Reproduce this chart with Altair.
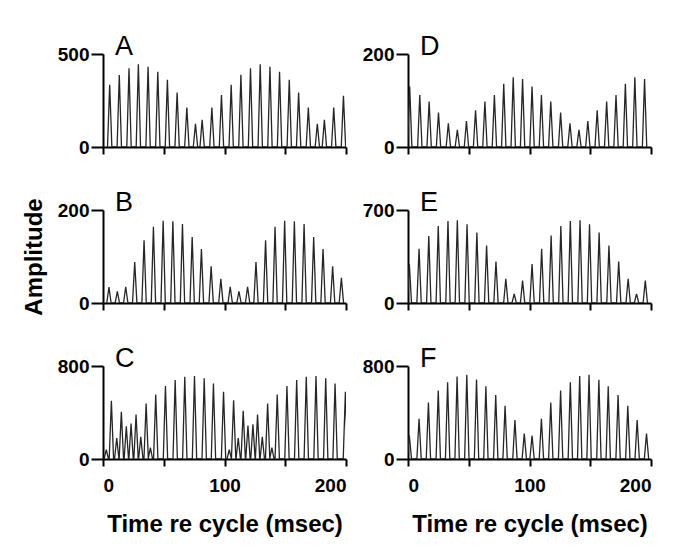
import altair as alt
import pandas as pd

# ---- data (peak times in msec, peak amplitudes) ----
a_t = [5.5, 13.4, 21.4, 29.1, 37.1, 45.1, 53.0, 61.0, 69.0, 76.1, 81.6, 89.6, 97.5,
       105.5, 113.5, 121.4, 129.4, 137.4, 145.3, 153.3, 161.0, 169.0, 176.4, 182.2, 189.9, 197.9]
a_h = [334, 387, 423, 445, 432, 405, 361, 293, 212, 125, 146, 212, 279,
       334, 389, 423, 445, 432, 405, 361, 293, 212, 125, 146, 212, 275]

b_t = [4.9, 11.8, 18.7, 26.1, 33.8, 41.5, 49.5, 57.5, 65.4, 73.4, 81.0, 89.0, 97.0,
       104.7, 111.9, 119.0, 125.9, 133.8, 141.6, 149.5, 157.5, 165.5, 173.4, 181.1, 189.0, 196.2]
b_h = [34, 25, 35, 88, 135, 164, 177, 176, 170, 142, 116, 79, 52,
       35, 25, 35, 88, 135, 164, 177, 176, 170, 142, 116, 79, 54]

c_t = [2.7, 6.9, 11.3, 15.1, 19.2, 23.1, 27.2, 31.1, 35.5, 39.0,
       43.4, 51.4, 59.4, 67.3, 75.3, 83.3, 90.9, 99.2,
       103.9, 107.5, 111.3, 115.4, 119.3, 123.4, 127.2, 131.1, 135.5, 139.0,
       143.4, 151.4, 159.4, 167.3, 175.3, 183.3, 191.0, 199.5]
c_h = [81, 501, 181, 406, 282, 305, 383, 190, 478, 98,
       555, 627, 679, 708, 714, 694, 650, 578,
       81, 506, 181, 414, 288, 299, 383, 190, 478, 98,
       555, 627, 679, 708, 714, 694, 650, 578]

d_t = [1.4, 9.7, 17.4, 25.1, 33.2, 40.6, 48.1, 55.6, 63.3, 71.1, 78.8, 86.6, 94.3,
       102.1, 109.8, 117.5, 125.6, 133.3, 140.7, 148.0, 155.7, 163.5, 171.2, 178.9, 186.7, 194.7]
d_h = [130, 112, 98, 74, 51, 37, 56, 79, 98, 112, 136, 150, 146,
       130, 112, 98, 74, 51, 37, 56, 79, 98, 112, 136, 150, 146]

e_t = [1.1, 9.1, 17.1, 24.9, 32.9, 40.6, 48.6, 56.7, 64.7, 72.4, 80.5, 87.4, 94.3,
       102.1, 110.0, 117.8, 125.8, 133.6, 141.6, 149.4, 157.3, 165.4, 173.4, 181.2, 188.1, 195.3]
e_h = [293, 408, 505, 580, 618, 623, 593, 530, 433, 313, 183, 68, 168,
       293, 408, 508, 580, 618, 623, 593, 530, 433, 313, 183, 68, 168]

f_t = [1.1, 9.1, 16.8, 24.9, 32.6, 40.4, 48.4, 56.4, 64.1, 72.2, 79.9, 88.0, 95.7,
       102.1, 109.8, 117.5, 125.6, 133.6, 141.3, 149.0, 157.1, 164.8, 172.9, 180.9, 188.6, 196.3]
f_h = [201, 346, 486, 588, 660, 710, 724, 684, 625, 550, 457, 335, 218,
       201, 346, 486, 588, 660, 713, 724, 681, 625, 550, 457, 335, 218]

letters = ["A", "D", "B", "E", "C", "F"]
y_max = [500, 200, 200, 700, 800, 800]
x_ticks = [0, 50, 100, 150, 200]

# ---- styling ----
W, H = 243, 93
HALF = 1.8  # half base width of each spike, msec
AX = dict(domainColor="black", domainWidth=2, tickColor="black", tickWidth=2,
          grid=False, labelFont="Liberation Sans", labelFontWeight="bold",
          labelFontSize=19, labelColor="black", titleFont="Liberation Sans",
          titleFontWeight="bold", titleFontSize=24, titleColor="black")


def panel(t, h, ymax, letter, bottom, ytitle):
    rows = []
    for i, (tt, hh) in enumerate(zip(t, h)):
        rows.append(dict(time=tt - HALF, amp=0, k=3 * i))
        rows.append(dict(time=tt, amp=hh, k=3 * i + 1))
        rows.append(dict(time=tt + HALF, amp=0, k=3 * i + 2))
    df = pd.DataFrame(rows)
    if bottom:
        xaxis = alt.Axis(values=x_ticks, labelExpr="datum.value % 100 === 0 ? datum.label : ''",
                         tickSize=7, labelPadding=10, title="Time re cycle (msec)",
                         titlePadding=17, **AX)
    else:
        xaxis = alt.Axis(values=x_ticks, labels=False, tickSize=7, title=None, **AX)
    if ytitle:
        yaxis = alt.Axis(values=[0, ymax], tickSize=12, labelPadding=2, title="Amplitude",
                         titlePadding=11, **AX)
    else:
        yaxis = alt.Axis(values=[0, ymax], tickSize=12, labelPadding=2, title=None, **AX)
    line = alt.Chart(df).mark_line(color="#262626", strokeWidth=1.3, clip=True).encode(
        x=alt.X("time:Q", scale=alt.Scale(domain=[0, 200], nice=False), axis=xaxis),
        y=alt.Y("amp:Q", scale=alt.Scale(domain=[0, ymax], nice=False), axis=yaxis),
        order="k:Q",
    )
    lab = alt.Chart(pd.DataFrame({"letter": [letter]})).mark_text(
        align="left", baseline="alphabetic", font="Liberation Sans", fontSize=27, color="black"
    ).encode(x=alt.value(12), y=alt.value(1), text="letter:N")
    return alt.layer(line, lab).properties(width=W, height=H)


series = [(a_t, a_h), (d_t, d_h), (b_t, b_h), (e_t, e_h), (c_t, c_h), (f_t, f_h)]
panels = []
for idx, ((t, h), letter, ymax) in enumerate(zip(series, letters, y_max)):
    panels.append(panel(t, h, ymax, letter, bottom=idx >= 4, ytitle=(idx == 2)))

chart = alt.concat(*panels, columns=2, spacing={"row": 63, "column": 62}, bounds="flush").configure_view(
    stroke=None
).properties(padding={"left": 14, "top": 25, "right": 5, "bottom": 5}, background="white")

chart.save("out.html", embed_options={"renderer": "svg", "actions": False})
